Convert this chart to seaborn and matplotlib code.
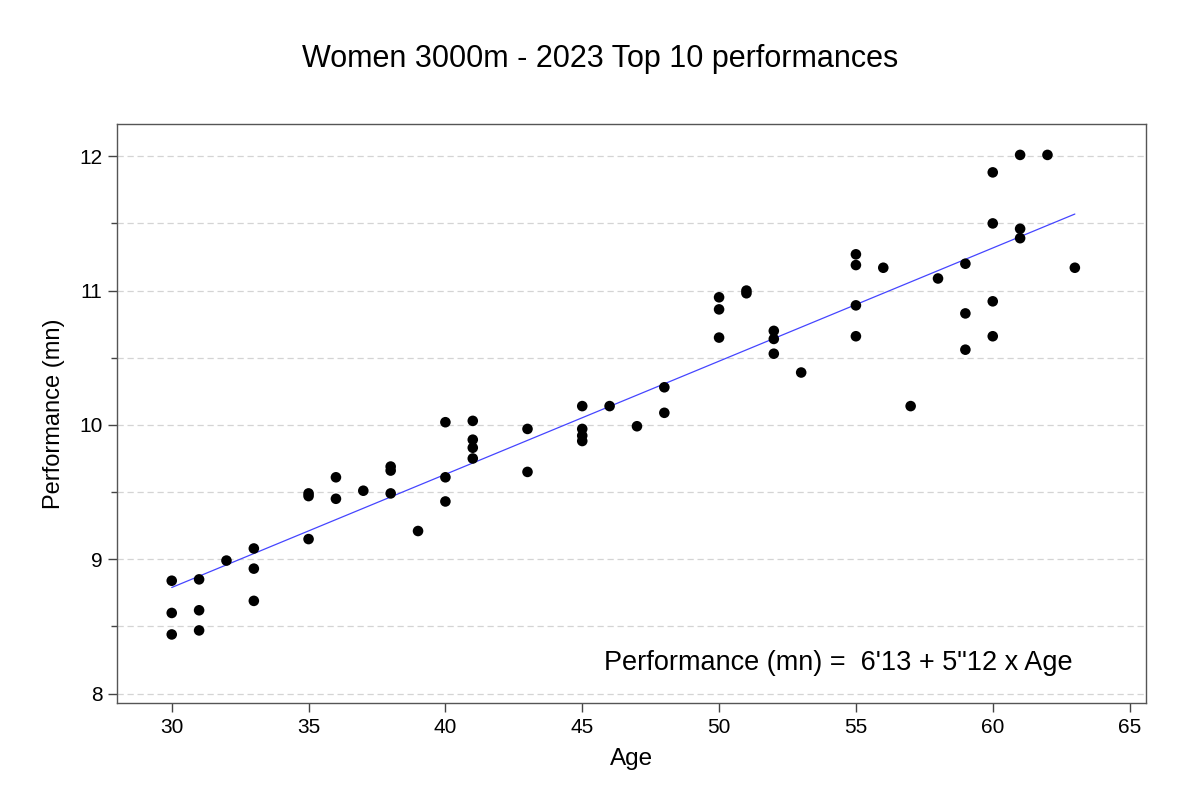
import numpy as np
import pandas as pd
import seaborn as sns
import matplotlib.pyplot as plt
from matplotlib.ticker import MultipleLocator

# Ages and performances (minutes)
ages = [30, 30, 30, 31, 31, 31, 32, 33, 33, 33,
        35, 35, 35, 36, 36, 37, 38, 38, 38, 39,
        40, 40, 40, 41, 41, 41, 41, 43, 43,
        45, 45, 45, 45, 46, 47, 48, 48,
        50, 50, 50, 51, 51, 52, 52, 52, 53,
        55, 55, 55, 55, 56, 57, 58, 59, 59, 59,
        60, 60, 60, 60, 61, 61, 61, 62, 63]
perfs = [8.84, 8.60, 8.44, 8.85, 8.62, 8.47, 8.99, 9.08, 8.93, 8.69,
         9.49, 9.47, 9.15, 9.61, 9.45, 9.51, 9.69, 9.66, 9.49, 9.21,
         10.02, 9.61, 9.43, 10.03, 9.89, 9.83, 9.75, 9.97, 9.65,
         10.14, 9.97, 9.92, 9.88, 10.14, 9.99, 10.28, 10.09,
         10.95, 10.86, 10.65, 11.00, 10.98, 10.70, 10.64, 10.53, 10.39,
         11.27, 11.19, 10.89, 10.66, 11.17, 10.14, 11.09, 11.20, 10.83, 10.56,
         11.88, 11.50, 10.92, 10.66, 12.01, 11.46, 11.39, 12.01, 11.17]

title = "Women 3000m - 2023 Top 10 performances"
equation = "Performance (mn) =  6'13 + 5\"12 x Age"

df = pd.DataFrame({"Age": ages, "Performance": perfs})

sns.set_style("white")
plt.rcParams['font.family'] = ['Liberation Sans', 'DejaVu Sans']
plt.rcParams['text.color'] = 'black'
plt.rcParams['axes.labelcolor'] = 'black'
plt.rcParams['xtick.color'] = 'black'
plt.rcParams['ytick.color'] = 'black'

fig = plt.figure(figsize=(12, 7.97), dpi=100)
ax = fig.add_axes([0.0975, 0.118, 0.8575, 0.7264])

sns.regplot(data=df, x="Age", y="Performance", ci=None, ax=ax,
            scatter_kws={"s": 58, "color": "black", "alpha": 1,
                         "edgecolor": "none", "zorder": 3},
            line_kws={"color": "#4545ff", "lw": 0.9, "zorder": 2})

ax.set_xlim(28.0, 65.6)
ax.set_ylim(7.93, 12.24)
ax.xaxis.set_major_locator(MultipleLocator(5))
ax.yaxis.set_major_locator(MultipleLocator(1))
ax.yaxis.set_minor_locator(MultipleLocator(0.5))
ax.grid(axis='y', which='both', linestyle=(0, (5, 3)), color='#d4d4d4', lw=0.9)
ax.set_axisbelow(True)

ax.tick_params(axis='both', which='major', direction='out', length=6.5, width=1,
               color='#444444', labelsize=15, bottom=True, left=True, pad=4)
ax.tick_params(axis='y', which='minor', direction='out', length=4, width=1,
               color='#444444', left=True)
for s in ax.spines.values():
    s.set_color('#555555')
    s.set_linewidth(1)

ax.set_xlabel("Age", fontsize=17.5, labelpad=8)
ax.set_ylabel("Performance (mn)", fontsize=17, labelpad=10)
ax.text(45.8, 8.23, equation, fontsize=19.5, ha='left', va='center')

fig.suptitle(title, fontsize=22, y=0.945)

fig.savefig("out.png", dpi=100)
